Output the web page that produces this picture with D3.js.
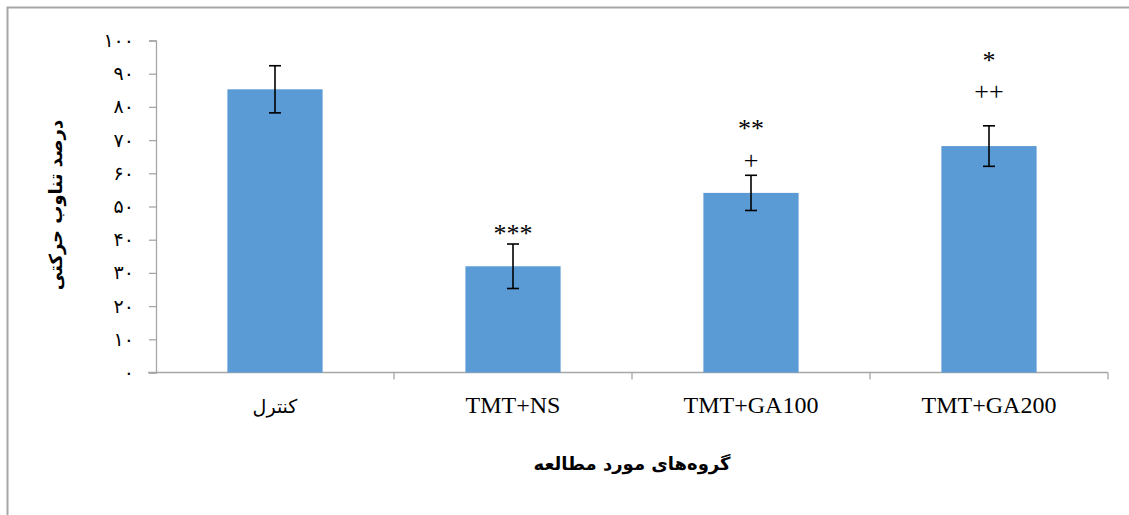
<!DOCTYPE html>
<html>
<head>
<meta charset="utf-8">
<script src="https://cdn.jsdelivr.net/npm/d3@7"></script>
<style>
html,body{margin:0;padding:0;background:#fff;}
svg{display:block;}
.serif{font-family:'Liberation Serif','Times New Roman','DejaVu Serif',serif;}
.fa{font-family:'DejaVu Sans',sans-serif;}
</style>
</head>
<body>
<svg id="chart" width="1129" height="515"></svg>
<script>
const categories = ["کنترل", "TMT+NS", "TMT+GA100", "TMT+GA200"];
const values = [85.3, 32.0, 54.1, 68.2];
const errors = [7.1, 6.7, 5.3, 6.1];
const sigLine1 = ["", "***", "+", "++"];
const sigLine2 = ["", "", "**", "*"];
const yTicks = [0, 10, 20, 30, 40, 50, 60, 70, 80, 90, 100];
const yTitle = "درصد تناوب حرکتی";
const xTitle = "گروه‌های مورد مطالعه";

const svg = d3.select("#chart");
const faDigits = "۰۱۲۳۴۵۶۷۸۹";
const toFa = n => String(n).replace(/\d/g, d => faDigits[+d]);

// frame
svg.append("path").attr("d", "M7.5,515 V7.5 H1129").attr("fill", "none")
  .attr("stroke", "#a6a6a6").attr("stroke-width", 2);

const x = d3.scaleBand().domain(categories).range([156, 1108])
  .paddingInner(0.6).paddingOuter(0.3);
const y = d3.scaleLinear().domain([0, 100]).range([372.5, 40.5]);

// y axis
const yAxis = svg.append("g").attr("transform", "translate(156,0)")
  .call(d3.axisLeft(y).tickValues(yTicks).tickSize(7).tickFormat(toFa));
yAxis.attr("font-family", null).attr("font-size", null);
yAxis.select(".domain").attr("stroke", "#a6a6a6").attr("stroke-width", 1.3);
yAxis.selectAll(".tick line").attr("stroke", "#a6a6a6").attr("stroke-width", 1.3);
yAxis.selectAll(".tick text").attr("class", "fa")
  .attr("font-size", 19).attr("fill", "#000").attr("x", -22);

// x axis line + ticks at band boundaries
const xStart = 156, xEnd = 1108;
svg.append("line").attr("x1", 148).attr("x2", xEnd).attr("y1", y(0)).attr("y2", y(0))
  .attr("stroke", "#a6a6a6").attr("stroke-width", 1.3);
const bounds = d3.range(1, categories.length + 1).map(i => xStart + i * (xEnd - xStart) / categories.length);
svg.selectAll(".xt").data(bounds).enter().append("line")
  .attr("x1", d => d).attr("x2", d => d).attr("y1", y(0)).attr("y2", y(0) + 7)
  .attr("stroke", "#a6a6a6").attr("stroke-width", 1.3);

// bars
svg.selectAll(".bar").data(categories).enter().append("rect")
  .attr("x", d => x(d)).attr("width", x.bandwidth())
  .attr("y", (d, i) => y(values[i])).attr("height", (d, i) => y(0) - y(values[i]))
  .attr("fill", "#5b9bd5");

// error bars
const eb = svg.append("g").attr("stroke", "#000").attr("stroke-width", 1.6);
categories.forEach((c, i) => {
  const cx = x(c) + x.bandwidth() / 2;
  const t = y(values[i] + errors[i]), b = y(values[i] - errors[i]);
  eb.append("line").attr("x1", cx).attr("x2", cx).attr("y1", t).attr("y2", b);
  eb.append("line").attr("x1", cx - 6).attr("x2", cx + 6).attr("y1", t).attr("y2", t);
  eb.append("line").attr("x1", cx - 6).attr("x2", cx + 6).attr("y1", b).attr("y2", b);
});

// significance markers
const sigOffset1 = [0, 2, 6, 26];
const sigOffset2 = [0, 0, 38, 57];
categories.forEach((c, i) => {
  const cx = x(c) + x.bandwidth() / 2;
  const top = y(values[i] + errors[i]);
  if (sigLine1[i]) {
    svg.append("text").attr("class", "serif").attr("x", cx).attr("y", top - sigOffset1[i])
      .attr("text-anchor", "middle").attr("font-size", 26).attr("fill", "#000")
      .text(sigLine1[i]);
  }
  if (sigLine2[i]) {
    svg.append("text").attr("class", "serif").attr("x", cx).attr("y", top - sigOffset2[i])
      .attr("text-anchor", "middle").attr("font-size", 26).attr("fill", "#000")
      .text(sigLine2[i]);
  }
});

// category labels
svg.selectAll(".cl").data(categories).enter().append("text")
  .attr("class", (d, i) => i === 0 ? "fa" : "serif")
  .attr("x", d => x(d) + x.bandwidth() / 2).attr("y", 413)
  .attr("text-anchor", "middle")
  .attr("font-size", (d, i) => i === 0 ? 19 : 24).attr("fill", "#000").text(d => d);

// axis titles
svg.append("text").attr("class", "fa").attr("x", 632).attr("y", 470).attr("text-anchor", "middle")
  .attr("font-weight", "bold").attr("font-size", 18).attr("fill", "#000").text(xTitle);
svg.append("text").attr("class", "fa").attr("transform", "translate(62,205) rotate(-90)")
  .attr("text-anchor", "middle").attr("font-weight", "bold")
  .attr("font-size", 18).attr("fill", "#000").text(yTitle);
</script>
</body>
</html>
